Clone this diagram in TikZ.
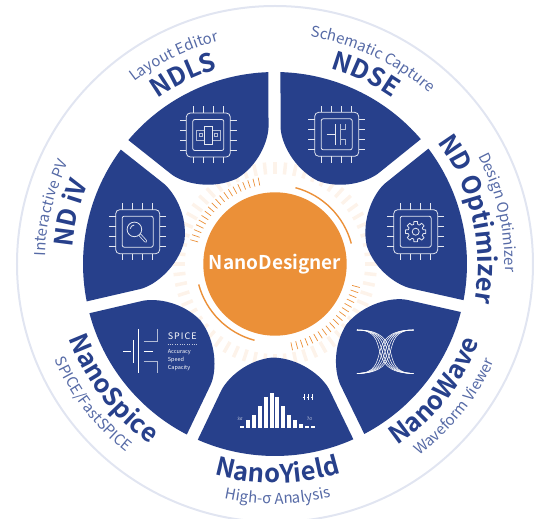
\documentclass[tikz,border=0pt]{standalone}
\usepackage{fontspec}
\setmainfont{Noto Sans CJK SC}[BoldFont={Noto Sans CJK SC Bold}]
\usetikzlibrary{decorations.text}

\definecolor{navy}{HTML}{27408B}
\definecolor{subblue}{HTML}{566AA6}
\definecolor{ringblue}{HTML}{E1E5F1}
\definecolor{hub}{HTML}{EB9038}
\definecolor{paletick}{HTML}{FDF3EA}

\tikzset{
  petal/.style={fill=navy},
  iconline/.style={draw=white!88!navy, line width=0.8pt},
  softline/.style={draw=white!65!navy, line width=0.8pt},
  namelabel/.style={decorate, decoration={text along path, text align=center,
      text={|\fontsize{25.5}{25.5}\selectfont\bfseries\color{navy}|#1}}},
  sublabel/.style={decorate, decoration={text along path, text align=center,
      text={|\fontsize{15}{15}\selectfont\color{subblue}|#1}}},
  chip/.pic={
    \draw[iconline, rounded corners=4pt] (-22,-22) rectangle (22,22);
    \draw[iconline, rounded corners=2pt] (-15.5,-15.5) rectangle (15.5,15.5);
    \foreach \p in {-15,-5,5,15}
    {
        \draw[iconline] (\p,22) -- (\p,28.5);
        \draw[iconline] (\p,-22) -- (\p,-28.5);
        \draw[iconline] (-22,\p) -- (-28.5,\p);
        \draw[iconline] (22,\p) -- (28.5,\p);
    }
  }
}

% labels over the upper petals run clockwise, the lower ones counterclockwise
\newcommand{\upperlabel}[3]{
    \path[namelabel={#2}] ({#1+35}:203) arc[start angle={#1+35}, end angle={#1-35}, radius=203];
    \path[sublabel={#3}] ({#1+35}:230) arc[start angle={#1+35}, end angle={#1-35}, radius=230];
}
\newcommand{\lowerlabel}[3]{
    \path[namelabel={#2}] ({#1-35}:219) arc[start angle={#1-35}, end angle={#1+35}, radius=219];
    \path[sublabel={#3}] ({#1-35}:240) arc[start angle={#1-35}, end angle={#1+35}, radius=240];
}

\begin{document}
\begin{tikzpicture}[x=1pt, y=1pt]
\useasboundingbox (-275,-255) rectangle (261,264);

% Outer ring
\draw[ringblue, line width=2pt] (0,0) circle (258);

% Pale ticks behind the petals
\foreach \a in {0,6,...,354}
{
    \draw[paletick, line width=3.5pt] (\a:90) -- (\a:102);
}

% Petals
\foreach \k in {0,...,6}
{
    \fill[petal, rotate={115.9-\k*360/7}] (-23.9:192) arc[start angle=-23.9, end angle=23.9, radius=192]
        -- (126,54) .. controls (112,47) and (94,24) .. (93.5,-3)
        .. controls (96,-28) and (113,-47) .. (126,-54) -- cycle;
}

% Orange ticks and arcs round the hub
\foreach \a in {101,104.5,...,166}
{
    \draw[hub, line width=0.7pt] (\a:80) -- (\a:88);
}
\foreach \a in {-78.5,-75,...,-14}
{
    \draw[hub, line width=0.7pt] (\a:80) -- (\a:88);
}
\draw[hub, line width=1.4pt] (75:79) arc[start angle=75, end angle=15, radius=79];
\draw[hub, line width=1.4pt] (195:79) arc[start angle=195, end angle=255, radius=79];

% Hub
\node[circle, fill=hub, minimum size=143.4pt, inner sep=0pt, text=white,
      font=\fontsize{19}{19}\selectfont\bfseries] (hubnode) at (0,0) {NanoDesigner};

% Labels
\upperlabel{115.9}{NDLS}{Layout Editor}
\upperlabel{64.5}{NDSE}{Schematic Capture}
\upperlabel{13}{ND Optimizer}{Design Optimizer}
\upperlabel{166}{ND iV}{Interactive PV}
\lowerlabel{-38.5}{NanoWave}{Waveform Viewer}
\lowerlabel{-89.3}{NanoYield}{High-σ Analysis}
\lowerlabel{-142.4}{NanoSpice}{SPICE/FastSPICE}

% Layout icon
\pic at (-66.7,129) {chip};
\begin{scope}[shift={(-66.7,129)}]
    \draw[softline] (-12,-5) rectangle (-4,5);
    \draw[softline] (-9,-1.5) rectangle (-6,1.5);
    \draw[softline] (4,-5) rectangle (12,5);
    \draw[softline] (6,-1.5) rectangle (9,1.5);
    \draw[iconline] (-4,-9) rectangle (4,9);
\end{scope}

% Schematic icon
\pic at (61.7,129.7) {chip};
\begin{scope}[shift={(61.7,129.7)}]
    \draw[iconline] (-10,0) -- (-2,0);
    \draw[iconline] (-1,10) -- (-1,-10.5);
    \draw[softline] (4,10) -- (4,-10.5);
    \draw[softline] (4,5) -- (8.5,5) -- (8.5,10);
    \draw[softline] (4,-5) -- (8.5,-5) -- (8.5,-10.5);
\end{scope}

% Optimizer icon
\pic at (140.7,32.3) {chip};
\begin{scope}[shift={(140.7,32.3)}]
    \draw[iconline, line join=round] \foreach \a in {0,45,...,315}
    {
        (\a-15:7.6) -- (\a-10:10.3) -- (\a+10:10.3) -- (\a+15:7.6)
        arc[start angle=\a+15, end angle=\a+30, radius=7.6]
    };
    \draw[iconline] (0,0) circle (3.5);
\end{scope}

% Inspect icon
\pic at (-137.3,32.3) {chip};
\begin{scope}[shift={(-137.3,32.3)}]
    \draw[iconline] (-3.3,2.3) circle (7.3);
    \draw[iconline] (-7.5,3) arc[start angle=170, end angle=95, radius=4.5];
    \draw[white!88!navy, line width=3pt, line cap=round] (2.5,-3.5) -- (8,-9.5);
    \draw[navy, line width=1.5pt, line cap=round] (2.5,-3.5) -- (8,-9.5);
\end{scope}

% Waveform icon
\foreach \d in {-7,-3.5,0,3.5,7}
{
    \draw[white, line width=0.55pt] (82,-66) .. controls ({126+\d},-66) and ({94+\d},-109.4) .. (138.5,-109.4);
    \draw[white, line width=0.55pt] (82,-109.4) .. controls ({126+\d},-109.4) and ({94+\d},-66) .. (138.5,-66);
}

% Spice icon
\draw[white, line width=1pt] (-151.7,-87.7) -- (-144.3,-87.7);
\draw[white, line width=1pt] (-141.7,-76) -- (-141.7,-99.3);
\draw[white, line width=1pt] (-136,-65) -- (-136,-109.3);
\draw[white, line width=1pt] (-131,-87.7) -- (-122.3,-87.7);
\draw[softline] (-131,-77.7) -- (-117.7,-77.7) -- (-117.7,-65.3);
\draw[softline] (-131,-97) -- (-117.7,-97) -- (-117.7,-109.3);
\node[anchor=base west, inner sep=0pt, text=white, font=\fontsize{9}{9}\selectfont\addfontfeature{LetterSpace=11}] (spicetitle) at (-107.3,-76) {SPICE};
\draw[white!70!navy, line width=0.4pt, dotted] (-107.3,-80.3) -- (-78,-80.3);
\node[anchor=base west, inner sep=0pt, text=white, font=\fontsize{5.5}{5.5}\selectfont] (spiceone) at (-107.3,-89.7) {Accuracy};
\node[anchor=base west, inner sep=0pt, text=white, font=\fontsize{5.5}{5.5}\selectfont] (spicetwo) at (-107.3,-98) {Speed};
\node[anchor=base west, inner sep=0pt, text=white, font=\fontsize{5.5}{5.5}\selectfont] (spicethree) at (-107.3,-106) {Capacity};

% Histogram icon
\foreach \x/\h in {-33/2,-27/8,-21/12.7,-15/21.7,-9/30.7,-3/34.7,2/30.7,8/21.7,14/12.7,20/8,26/3.7,32/2,38/1.3}
{
    \fill[white] ({\x-2},-163.7) rectangle ++(4,\h);
}
\foreach \x in {29,33,37}
{
    \draw[white, line width=0.8pt] (\x,-130) -- (\x,-136.5);
    \draw[white, line width=0.5pt] ({\x-1},-133) -- ({\x+1},-133);
}
\node[text=white!80!navy, inner sep=0pt, font=\fontsize{4.5}{4.5}\selectfont] (lowsigma) at (-35,-155) {3σ};
\node[text=white!80!navy, inner sep=0pt, font=\fontsize{4.5}{4.5}\selectfont] (highsigma) at (34.5,-155) {7σ};

\end{tikzpicture}
\end{document}
